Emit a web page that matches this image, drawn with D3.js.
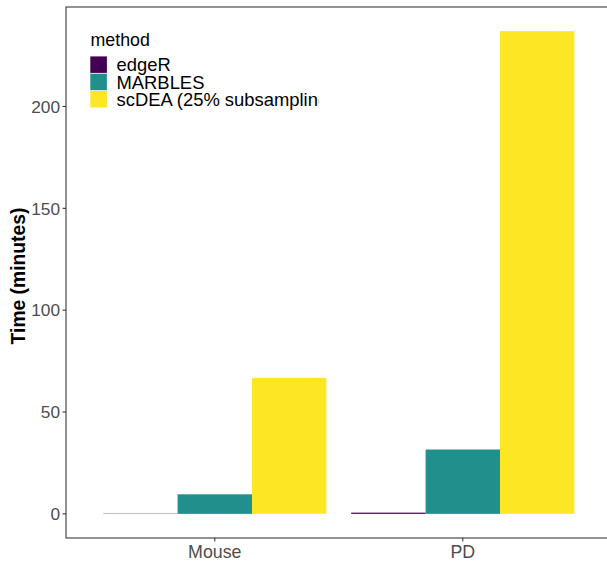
<!DOCTYPE html>
<html><head><meta charset="utf-8">
<script src="https://cdn.jsdelivr.net/npm/d3@7"></script>
<style>body{margin:0;background:#fff}svg{display:block;font-family:"Liberation Sans",Arial,sans-serif}</style>
</head><body>
<svg id="c" width="607" height="562"></svg>
<script>
const categories = ["Mouse", "PD"];
const methods = ["edgeR", "MARBLES", "scDEA (25% subsampling)"];
const colors = ["#440154", "#21908C", "#FDE725"];
const edgeR = [0.25, 0.6];
const marbles = [9.6, 31.6];
const scdea = [66.8, 237];
const yTicks = [0, 50, 100, 150, 200];

const series = [edgeR, marbles, scdea];
const data = [];
categories.forEach((c, i) => methods.forEach((m, j) => data.push({cat: c, method: m, value: series[j][i]})));

const svg = d3.select("#c");
const L = 66, T = 7, B = 538;
const step = 248;
const R = L + 2.2 * step;
const yMax = d3.max(data, d => d.value);
const y = d3.scaleLinear().domain([-0.05 * yMax, yMax * 1.05]).range([B, T]);
const xc = d3.scalePoint().domain(categories).range([L + 0.6 * step, L + 1.6 * step]);
const xm = d3.scaleBand().domain(methods).range([-0.45 * step, 0.45 * step]);
const col = d3.scaleOrdinal().domain(methods).range(colors);

// bars
svg.append("g").selectAll("rect").data(data).join("rect")
  .attr("x", d => xc(d.cat) + xm(d.method))
  .attr("width", xm.bandwidth())
  .attr("y", d => y(d.value))
  .attr("height", d => Math.max(0.4, y(0) - y(d.value)))
  .attr("fill", d => col(d.method))
  .attr("fill-opacity", d => d.value < 0.4 ? 0.55 : 1);

// panel border
svg.append("rect").attr("x", L).attr("y", T).attr("width", R - L).attr("height", B - T)
  .attr("fill", "none").attr("stroke", "#333").attr("stroke-width", 1.07);

// y axis
const ya = svg.append("g");
yTicks.forEach(t => {
  ya.append("line").attr("x1", L - 3.5).attr("x2", L).attr("y1", y(t)).attr("y2", y(t)).attr("stroke", "#333").attr("stroke-width", 1.07);
  ya.append("text").attr("x", L - 6).attr("y", y(t)).attr("dy", "0.36em").attr("text-anchor", "end")
    .attr("font-size", 17.3).attr("fill", "#4D4D4D").text(t);
});
// x axis
categories.forEach(c => {
  svg.append("line").attr("x1", xc(c)).attr("x2", xc(c)).attr("y1", B).attr("y2", B + 3.5).attr("stroke", "#333").attr("stroke-width", 1.07);
  svg.append("text").attr("x", xc(c)).attr("y", B + 19.5).attr("text-anchor", "middle")
    .attr("font-size", 17.8).attr("fill", "#4D4D4D").text(c);
});
// y title
svg.append("text").attr("transform", `translate(24.5,276) rotate(-90)`)
  .attr("text-anchor", "middle").attr("font-size", 19.3).attr("font-weight", "bold").text("Time (minutes)");

// legend
svg.append("clipPath").attr("id", "lc").append("rect").attr("x", 80).attr("y", 20).attr("width", 238.5).attr("height", 100);
const lg = svg.append("g").attr("clip-path", "url(#lc)");
lg.append("text").attr("x", 90.5).attr("y", 45.5).attr("font-size", 17.8).attr("fill", "#000").text("method");
methods.forEach((m, i) => {
  const ky = 56 + i * 17.3;
  lg.append("rect").attr("x", 90.3).attr("y", ky + 0.4).attr("width", 16.6).attr("height", 16.5).attr("fill", col(m));
  lg.append("text").attr("x", 116.5).attr("y", ky + 8.6).attr("dy", "0.36em").attr("font-size", 18.4).attr("fill", "#000").text(m);
});
</script>
</body></html>
